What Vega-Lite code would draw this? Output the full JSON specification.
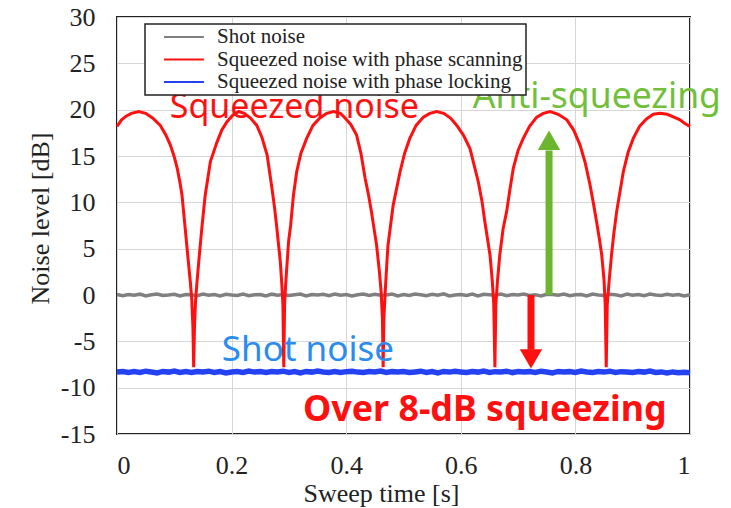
{
  "$schema": "https://vega.github.io/schema/vega-lite/v6.json",
  "width": 573,
  "height": 417,
  "autosize": "none",
  "padding": {"left": 117, "top": 17, "right": 41, "bottom": 74},
  "background": "white",
  "config": {
    "view": {"stroke": "#222", "strokeWidth": 2},
    "axis": {
      "grid": true, "gridColor": "#d6d6d6", "gridWidth": 1,
      "domain": false, "ticks": false,
      "labelFont": "Liberation Serif", "labelFontSize": 26, "labelColor": "#222",
      "titleFont": "Liberation Serif", "titleFontSize": 26, "titleFontWeight": "normal", "titleColor": "#222"
    },
    "legend": {
      "orient": "none", "legendX": 28, "legendY": 7,
      "strokeColor": "#222", "strokeWidth": 1.5, "fillColor": "white", "padding": 2.5,
      "labelFont": "Liberation Serif", "labelFontSize": 21, "labelColor": "#222", "labelLimit": 400,
      "symbolType": "M0.7,0L5.4,0", "symbolSize": 289, "symbolStrokeWidth": 2.2, "labelOffset": 48.5, "rowPadding": 0.5
    }
  },
  "datasets": {
    "shot": [
      {"x":0,"v":0.05},{"x":0.01,"v":-0.08},{"x":0.02,"v":0.06},{"x":0.03,"v":-0.03},{"x":0.04,"v":0.09},{"x":0.05,"v":-0.1},{"x":0.06,"v":0.03},{"x":0.07,"v":0.11},{"x":0.08,"v":-0.05},{"x":0.09,"v":0.0},
      {"x":0.10,"v":0.08},{"x":0.11,"v":-0.11},{"x":0.12,"v":0.05},{"x":0.13,"v":0.03},{"x":0.14,"v":-0.08},{"x":0.15,"v":0.1},{"x":0.16,"v":-0.03},{"x":0.17,"v":0.05},{"x":0.18,"v":-0.1},{"x":0.19,"v":0.08},
      {"x":0.20,"v":0.0},{"x":0.21,"v":-0.05},{"x":0.22,"v":0.1},{"x":0.23,"v":-0.08},{"x":0.24,"v":0.03},{"x":0.25,"v":0.05},{"x":0.26,"v":-0.1},{"x":0.27,"v":0.09},{"x":0.28,"v":-0.03},{"x":0.29,"v":0.06},
      {"x":0.30,"v":-0.05},{"x":0.31,"v":0.03},{"x":0.32,"v":0.1},{"x":0.33,"v":-0.11},{"x":0.34,"v":0.05},{"x":0.35,"v":0.0},{"x":0.36,"v":0.08},{"x":0.37,"v":-0.08},{"x":0.38,"v":0.11},{"x":0.39,"v":-0.03},
      {"x":0.40,"v":0.05},{"x":0.41,"v":-0.1},{"x":0.42,"v":0.03},{"x":0.43,"v":0.1},{"x":0.44,"v":-0.05},{"x":0.45,"v":0.08},{"x":0.46,"v":-0.03},{"x":0.47,"v":0.0},{"x":0.48,"v":0.11},{"x":0.49,"v":-0.1},
      {"x":0.50,"v":0.05},{"x":0.51,"v":-0.05},{"x":0.52,"v":0.1},{"x":0.53,"v":0.03},{"x":0.54,"v":-0.08},{"x":0.55,"v":0.08},{"x":0.56,"v":-0.03},{"x":0.57,"v":0.13},{"x":0.58,"v":-0.1},{"x":0.59,"v":0.0},
      {"x":0.60,"v":0.05},{"x":0.61,"v":-0.05},{"x":0.62,"v":0.1},{"x":0.63,"v":-0.11},{"x":0.64,"v":0.08},{"x":0.65,"v":0.03},{"x":0.66,"v":-0.03},{"x":0.67,"v":0.1},{"x":0.68,"v":-0.08},{"x":0.69,"v":0.05},
      {"x":0.70,"v":0.0},{"x":0.71,"v":0.11},{"x":0.72,"v":-0.05},{"x":0.73,"v":0.03},{"x":0.74,"v":-0.1},{"x":0.75,"v":0.08},{"x":0.76,"v":0.05},{"x":0.77,"v":-0.03},{"x":0.78,"v":0.1},{"x":0.79,"v":-0.08},
      {"x":0.80,"v":0.03},{"x":0.81,"v":0.05},{"x":0.82,"v":-0.11},{"x":0.83,"v":0.1},{"x":0.84,"v":0.0},{"x":0.85,"v":-0.05},{"x":0.86,"v":0.08},{"x":0.87,"v":0.03},{"x":0.88,"v":-0.1},{"x":0.89,"v":0.11},
      {"x":0.90,"v":-0.03},{"x":0.91,"v":0.05},{"x":0.92,"v":-0.08},{"x":0.93,"v":0.1},{"x":0.94,"v":0.0},{"x":0.95,"v":-0.05},{"x":0.96,"v":0.08},{"x":0.97,"v":-0.03},{"x":0.98,"v":0.05},{"x":0.99,"v":-0.1},{"x":1.0,"v":0.03}
    ],
    "scan": [
      {"x":0.000,"v":18.2},{"x":0.008,"v":18.9},{"x":0.016,"v":19.3},{"x":0.025,"v":19.6},{"x":0.038,"v":19.8},{"x":0.050,"v":19.6},{"x":0.062,"v":19.1},{"x":0.0756,"v":18.3},{"x":0.085,"v":17.3},{"x":0.093,"v":16.2},
      {"x":0.100,"v":14.9},{"x":0.105,"v":13.7},{"x":0.110,"v":12.1},{"x":0.1134,"v":10.8},{"x":0.119,"v":7.2},{"x":0.1234,"v":4.3},{"x":0.128,"v":1.4},{"x":0.1305,"v":-0.5},{"x":0.1325,"v":-3.5},{"x":0.1338,"v":-7.8},
      {"x":0.1352,"v":-3.5},{"x":0.1372,"v":-0.5},{"x":0.1396,"v":1.4},{"x":0.144,"v":4.5},{"x":0.148,"v":7.2},{"x":0.154,"v":10.8},{"x":0.163,"v":14.4},{"x":0.1745,"v":16.5},{"x":0.183,"v":17.8},{"x":0.192,"v":18.7},
      {"x":0.202,"v":19.4},{"x":0.2124,"v":19.8},{"x":0.222,"v":19.6},{"x":0.233,"v":19.1},{"x":0.244,"v":18.3},{"x":0.253,"v":17.0},{"x":0.262,"v":15.1},{"x":0.2705,"v":11.5},{"x":0.275,"v":9.4},{"x":0.279,"v":7.2},
      {"x":0.285,"v":3.6},{"x":0.2875,"v":1.3},{"x":0.2895,"v":-1.0},{"x":0.291,"v":-7.8},{"x":0.2925,"v":-1.0},{"x":0.2945,"v":1.3},{"x":0.2995,"v":5.8},{"x":0.303,"v":7.5},{"x":0.308,"v":10.8},{"x":0.3136,"v":13.3},
      {"x":0.321,"v":15.3},{"x":0.331,"v":16.9},{"x":0.342,"v":18.3},{"x":0.354,"v":19.1},{"x":0.366,"v":19.6},{"x":0.378,"v":19.8},{"x":0.390,"v":19.6},{"x":0.398,"v":19.1},{"x":0.408,"v":18.4},{"x":0.418,"v":17.3},
      {"x":0.426,"v":15.2},{"x":0.433,"v":12.6},{"x":0.439,"v":10.8},{"x":0.444,"v":9.0},{"x":0.449,"v":7.0},{"x":0.453,"v":5.4},{"x":0.458,"v":2.5},{"x":0.461,"v":0.3},{"x":0.4632,"v":-2.5},{"x":0.4645,"v":-7.8},
      {"x":0.4658,"v":-2.5},{"x":0.468,"v":0.3},{"x":0.471,"v":3.5},{"x":0.473,"v":5.4},{"x":0.482,"v":9.7},{"x":0.494,"v":13.3},{"x":0.502,"v":15.3},{"x":0.511,"v":16.9},{"x":0.522,"v":18.3},{"x":0.5346,"v":19.2},
      {"x":0.546,"v":19.6},{"x":0.558,"v":19.8},{"x":0.570,"v":19.6},{"x":0.582,"v":19.1},{"x":0.593,"v":18.3},{"x":0.605,"v":17.2},{"x":0.616,"v":15.8},{"x":0.6306,"v":12.2},{"x":0.637,"v":10.1},{"x":0.642,"v":7.9},
      {"x":0.647,"v":5.9},{"x":0.651,"v":4.3},{"x":0.655,"v":1.5},{"x":0.6575,"v":-1.0},{"x":0.6595,"v":-7.8},{"x":0.6612,"v":-1.0},{"x":0.664,"v":1.5},{"x":0.668,"v":4.3},{"x":0.674,"v":7.2},{"x":0.680,"v":9.0},
      {"x":0.686,"v":11.5},{"x":0.6917,"v":13.7},{"x":0.700,"v":15.6},{"x":0.709,"v":16.9},{"x":0.720,"v":18.2},{"x":0.7325,"v":19.2},{"x":0.744,"v":19.6},{"x":0.756,"v":19.8},{"x":0.770,"v":19.5},{"x":0.785,"v":18.9},
      {"x":0.797,"v":17.8},{"x":0.808,"v":16.2},{"x":0.817,"v":14.3},{"x":0.8255,"v":11.9},{"x":0.832,"v":9.7},{"x":0.837,"v":7.9},{"x":0.842,"v":6.0},{"x":0.846,"v":4.3},{"x":0.850,"v":1.6},{"x":0.852,"v":-1.0},
      {"x":0.8538,"v":-7.8},{"x":0.8556,"v":-1.0},{"x":0.859,"v":1.6},{"x":0.863,"v":4.3},{"x":0.867,"v":6.6},{"x":0.872,"v":9.0},{"x":0.8836,"v":13.3},{"x":0.892,"v":15.4},{"x":0.901,"v":16.9},{"x":0.912,"v":18.2},
      {"x":0.924,"v":19.0},{"x":0.936,"v":19.5},{"x":0.9476,"v":19.6},{"x":0.960,"v":19.5},{"x":0.972,"v":19.2},{"x":0.9825,"v":18.9},{"x":0.991,"v":18.5},{"x":1.000,"v":18.2}
    ],
    "lock": [
      {"x":0,"v":-8.32},{"x":0.01,"v":-8.25},{"x":0.02,"v":-8.37},{"x":0.03,"v":-8.27},{"x":0.04,"v":-8.35},{"x":0.05,"v":-8.22},{"x":0.06,"v":-8.3},{"x":0.07,"v":-8.4},{"x":0.08,"v":-8.25},{"x":0.09,"v":-8.32},
      {"x":0.10,"v":-8.2},{"x":0.11,"v":-8.35},{"x":0.12,"v":-8.27},{"x":0.13,"v":-8.37},{"x":0.14,"v":-8.25},{"x":0.15,"v":-8.3},{"x":0.16,"v":-8.22},{"x":0.17,"v":-8.35},{"x":0.18,"v":-8.27},{"x":0.19,"v":-8.4},
      {"x":0.20,"v":-8.3},{"x":0.21,"v":-8.25},{"x":0.22,"v":-8.35},{"x":0.23,"v":-8.2},{"x":0.24,"v":-8.32},{"x":0.25,"v":-8.27},{"x":0.26,"v":-8.37},{"x":0.27,"v":-8.25},{"x":0.28,"v":-8.3},{"x":0.29,"v":-8.22},
      {"x":0.30,"v":-8.35},{"x":0.31,"v":-8.27},{"x":0.32,"v":-8.4},{"x":0.33,"v":-8.25},{"x":0.34,"v":-8.32},{"x":0.35,"v":-8.2},{"x":0.36,"v":-8.3},{"x":0.37,"v":-8.37},{"x":0.38,"v":-8.25},{"x":0.39,"v":-8.35},
      {"x":0.40,"v":-8.27},{"x":0.41,"v":-8.22},{"x":0.42,"v":-8.32},{"x":0.43,"v":-8.37},{"x":0.44,"v":-8.25},{"x":0.45,"v":-8.3},{"x":0.46,"v":-8.2},{"x":0.47,"v":-8.35},{"x":0.48,"v":-8.27},{"x":0.49,"v":-8.32},
      {"x":0.50,"v":-8.25},{"x":0.51,"v":-8.37},{"x":0.52,"v":-8.3},{"x":0.53,"v":-8.22},{"x":0.54,"v":-8.35},{"x":0.55,"v":-8.27},{"x":0.56,"v":-8.4},{"x":0.57,"v":-8.25},{"x":0.58,"v":-8.32},{"x":0.59,"v":-8.22},
      {"x":0.60,"v":-8.3},{"x":0.61,"v":-8.37},{"x":0.62,"v":-8.25},{"x":0.63,"v":-8.32},{"x":0.64,"v":-8.2},{"x":0.65,"v":-8.35},{"x":0.66,"v":-8.27},{"x":0.67,"v":-8.3},{"x":0.68,"v":-8.22},{"x":0.69,"v":-8.37},
      {"x":0.70,"v":-8.25},{"x":0.71,"v":-8.32},{"x":0.72,"v":-8.27},{"x":0.73,"v":-8.35},{"x":0.74,"v":-8.22},{"x":0.75,"v":-8.3},{"x":0.76,"v":-8.4},{"x":0.77,"v":-8.25},{"x":0.78,"v":-8.32},{"x":0.79,"v":-8.27},
      {"x":0.80,"v":-8.35},{"x":0.81,"v":-8.2},{"x":0.82,"v":-8.3},{"x":0.83,"v":-8.37},{"x":0.84,"v":-8.25},{"x":0.85,"v":-8.32},{"x":0.86,"v":-8.22},{"x":0.87,"v":-8.35},{"x":0.88,"v":-8.27},{"x":0.89,"v":-8.3},
      {"x":0.90,"v":-8.37},{"x":0.91,"v":-8.25},{"x":0.92,"v":-8.32},{"x":0.93,"v":-8.2},{"x":0.94,"v":-8.35},{"x":0.95,"v":-8.3},{"x":0.96,"v":-8.42},{"x":0.97,"v":-8.3},{"x":0.98,"v":-8.38},{"x":0.99,"v":-8.33},{"x":1.0,"v":-8.4}
    ]
  },
  "encoding": {
    "x": {"field": "x", "type": "quantitative", "scale": {"domain": [0, 1], "nice": false},
      "axis": {"values": [0, 0.2, 0.4, 0.6, 0.8, 1], "format": "~g", "labelPadding": 18, "title": "Sweep time [s]",
        "titleX": 264, "titleY": 59, "titleAlign": "center", "titleBaseline": "middle"}},
    "y": {"field": "v", "type": "quantitative", "scale": {"domain": [-15, 30], "nice": false},
      "axis": {"values": [-15, -10, -5, 0, 5, 10, 15, 20, 25, 30], "labelPadding": 22, "title": "Noise level [dB]",
        "labelExpr": "replace(datum.label, '\u2212', '-')",
        "titleX": -77, "titleY": 201, "titleAlign": "center", "titleBaseline": "middle"}}
  },
  "layer": [
    {"data": {"name": "shot"}, "mark": {"type": "line", "strokeWidth": 3.5, "interpolate": "linear"},
      "encoding": {"color": {"datum": "Shot noise", "type": "nominal", "title": null,
        "scale": {"domain": ["Shot noise", "Squeezed noise with phase scanning", "Squeezed noise with phase locking"],
                  "range": ["#808080", "#ff1010", "#2442f2"]}}}},
    {"data": {"name": "scan"}, "mark": {"type": "line", "strokeWidth": 3},
      "encoding": {"color": {"datum": "Squeezed noise with phase scanning", "type": "nominal"}}},
    {"data": {"name": "lock"}, "mark": {"type": "line", "strokeWidth": 5.5},
      "encoding": {"color": {"datum": "Squeezed noise with phase locking", "type": "nominal"}}},
    {"data": {"values": [{"x": 0.754, "v": 0, "v2": 15.6}]}, "mark": {"type": "rule", "color": "#6cb52f", "strokeWidth": 7},
      "encoding": {"y2": {"field": "v2"}}},
    {"data": {"values": [{"x": 0.754, "v": 16.7}]}, "mark": {"type": "point", "shape": "triangle-up", "size": 500, "filled": true, "color": "#6cb52f", "opacity": 1}},
    {"data": {"values": [{"x": 0.7225, "v": 0, "v2": -5.9}]}, "mark": {"type": "rule", "color": "#ff1010", "strokeWidth": 7},
      "encoding": {"y2": {"field": "v2"}}},
    {"data": {"values": [{"x": 0.7225, "v": -6.9}]}, "mark": {"type": "point", "shape": "triangle-down", "size": 500, "filled": true, "color": "#ff1010", "opacity": 1}},
    {"data": {"values": [{"x": 0.092, "v": 20.2, "t": "Squeezed noise"}]},
      "mark": {"type": "text", "align": "left", "baseline": "middle", "font": "Noto Sans", "fontSize": 34, "color": "#ff1010"},
      "encoding": {"text": {"field": "t"}}},
    {"data": {"values": [{"x": 0.621, "v": 21.4, "t": "Anti-squeezing"}]},
      "mark": {"type": "text", "align": "left", "baseline": "middle", "font": "Noto Sans", "fontSize": 35.5, "color": "#72bf3c"},
      "encoding": {"text": {"field": "t"}}},
    {"data": {"values": [{"x": 0.183, "v": -5.9, "t": "Shot noise"}]},
      "mark": {"type": "text", "align": "left", "baseline": "middle", "font": "Noto Sans", "fontSize": 35, "color": "#2a8cf0"},
      "encoding": {"text": {"field": "t"}}},
    {"data": {"values": [{"x": 0.3246, "v": -12.4, "t": "Over 8-dB squeezing"}]},
      "mark": {"type": "text", "align": "left", "baseline": "middle", "font": "Noto Sans", "fontSize": 35.8, "fontWeight": "bold", "color": "#ff1010"},
      "encoding": {"text": {"field": "t"}}}
  ]
}
